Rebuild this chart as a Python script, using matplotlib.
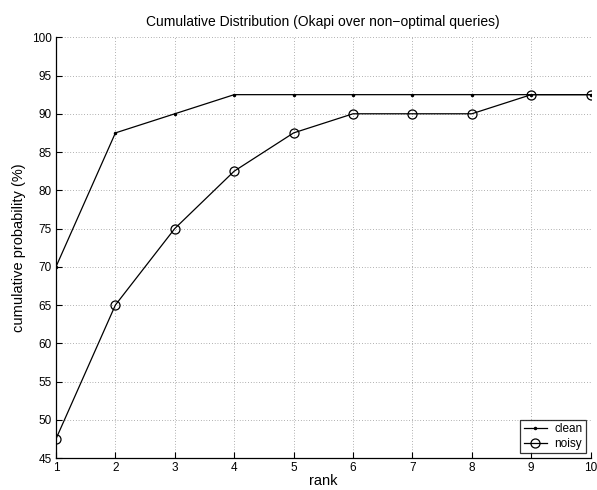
import matplotlib
matplotlib.use("Agg")
import matplotlib.pyplot as plt

plt.rcParams['font.family'] = ['Liberation Sans', 'DejaVu Sans']

rank = [1, 2, 3, 4, 5, 6, 7, 8, 9, 10]
clean = [70, 87.5, 90, 92.5, 92.5, 92.5, 92.5, 92.5, 92.5, 92.5]
noisy = [47.5, 65, 75, 82.5, 87.5, 90, 90, 90, 92.5, 92.5]

fig = plt.figure(figsize=(5.97, 4.90), dpi=100)
ax = fig.add_axes([0.0938, 0.0653, 0.8955, 0.8586])

ax.plot(rank, clean, color='black', lw=0.9, marker='.', markersize=3, label='clean')
ax.plot(rank, noisy, color='black', lw=0.9, marker='o', markersize=6.5,
        markerfacecolor='none', markeredgewidth=0.9, label='noisy')

ax.set_xlim(1, 10)
ax.set_ylim(45, 100)
ax.set_xticks(rank)
ax.set_yticks(range(45, 101, 5))
ax.tick_params(direction='in', length=4, width=0.8, labelsize=8.5, pad=3)
ax.grid(True, linestyle=(0, (1, 3)), color='black', lw=0.5, alpha=0.6)

for s in ['top', 'right']:
    ax.spines[s].set_visible(False)
for s in ['left', 'bottom']:
    ax.spines[s].set_linewidth(0.9)

ax.set_xlabel('rank', fontsize=10.5, labelpad=0)
ax.set_ylabel('cumulative probability (%)', fontsize=10.5, labelpad=4)
ax.set_title('Cumulative Distribution (Okapi over non\u2212optimal queries)', fontsize=10, pad=8)

leg = ax.legend(loc='lower right', fontsize=8.5, frameon=True, fancybox=False,
                edgecolor='black', borderpad=0.3, handlelength=2.0,
                handletextpad=0.6, labelspacing=0.2, borderaxespad=0.4)
leg.get_frame().set_linewidth(0.9)

fig.savefig('out.png', dpi=100)
